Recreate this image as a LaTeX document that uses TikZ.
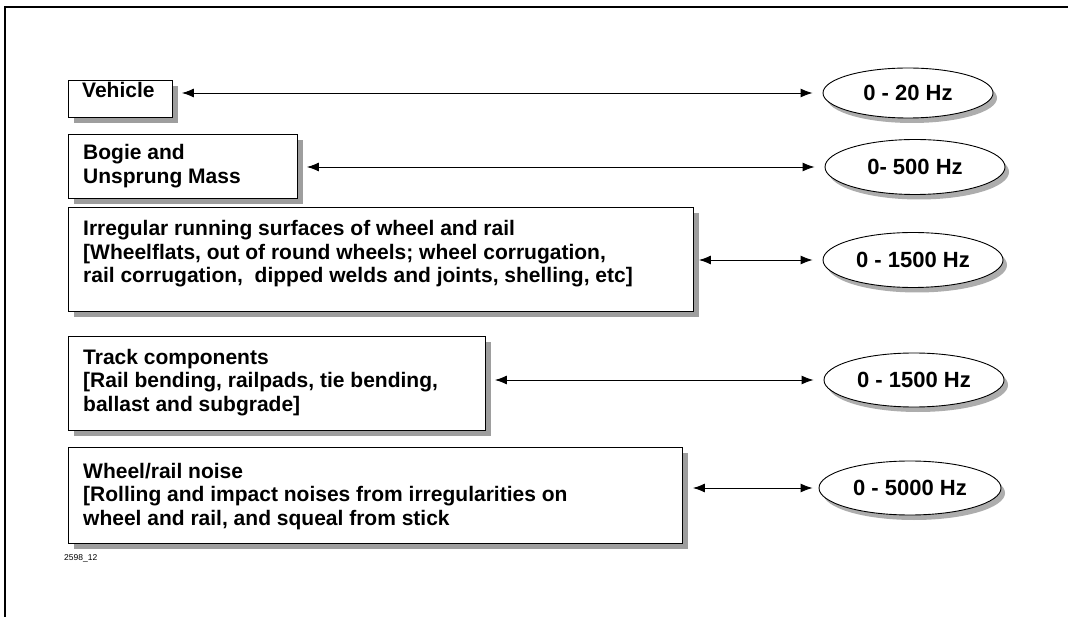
\documentclass[tikz,border=0pt]{standalone}
\usepackage{fontspec}
\setmainfont{Liberation Sans}
\usetikzlibrary{arrows.meta,shapes.geometric,shadows}
\begin{document}
\begin{tikzpicture}[x=1pt,y=-1pt,
  box/.style={draw=black, line width=0.9pt, fill=white, rectangle, inner sep=0pt, anchor=north west,
    drop shadow={shadow xshift=6pt, shadow yshift=-6pt, fill=black!38, opacity=1}},
  freq/.style={draw=black, ellipse, line width=0.9pt, fill=white, inner sep=0pt,
    font=\fontsize{22}{24}\selectfont\bfseries,
    drop shadow={shadow xshift=4pt, shadow yshift=-5pt, fill=black!32, opacity=1}},
  txt/.style={anchor=base west, align=left, inner sep=0pt, font=\fontsize{21}{23.5}\selectfont\bfseries},
  arr/.style={{Latex[length=12pt,width=9pt]}-{Latex[length=12pt,width=9pt]}, line width=0.9pt},
]
\useasboundingbox (0,0) rectangle (1068,617);
\fill[white] (0,0) rectangle (1068,617);
\draw[line width=1.5pt] (5,617) -- (5,7) -- (1068,7);

% boxes
\node[box, minimum width=104pt, minimum height=37pt] (b1) at (68,80) {};
\node[box, minimum width=229pt, minimum height=64pt] (b2) at (68,134) {};
\node[box, minimum width=625pt, minimum height=104pt] (b3) at (68,207) {};
\node[box, minimum width=417pt, minimum height=94pt] (b4) at (68,336) {};
\node[box, minimum width=614pt, minimum height=96pt] (b5) at (68,447) {};

% texts (anchored at the baseline of the last line)
\node[txt] (t1) at (82,98) {Vehicle};
\node[txt] (t2) at (83,183.5) {Bogie and\\Unsprung Mass};
\node[txt] (t3) at (83,283) {Irregular running surfaces of wheel and rail\\{[}Wheelflats, out of round wheels; wheel corrugation,\\rail corrugation,\ \ dipped welds and joints, shelling, etc]};
\node[txt] (t4) at (83,411) {Track components\\{[}Rail bending, railpads, tie bending,\\ballast and subgrade]};
\node[txt] (t5) at (83,525) {Wheel/rail noise\\{[}Rolling and impact noises from irregularities on\\wheel and rail, and squeal from stick};

% frequency ellipses
\node[freq, minimum width=170pt, minimum height=50pt] (e1) at (908,93) {0 - 20 Hz};
\node[freq, minimum width=180pt, minimum height=55pt] (e2) at (915,167) {0- 500 Hz};
\node[freq, minimum width=180pt, minimum height=55pt] (e3) at (913,260) {0 - 1500 Hz};
\node[freq, minimum width=180pt, minimum height=54pt] (e4) at (914,380) {0 - 1500 Hz};
\node[freq, minimum width=182pt, minimum height=54pt] (e5) at (910,488) {0 - 5000 Hz};

% connectors
\draw[arr] ([xshift=9pt]e1.west -| b1.east) -- ([xshift=-10pt]e1.west);
\draw[arr] ([xshift=9pt]e2.west -| b2.east) -- ([xshift=-10pt]e2.west);
\draw[arr] ([xshift=5pt]e3.west -| b3.east) -- ([xshift=-10pt]e3.west);
\draw[arr] ([xshift=9pt]e4.west -| b4.east) -- ([xshift=-10pt]e4.west);
\draw[arr] ([xshift=10pt]e5.west -| b5.east) -- ([xshift=-6pt]e5.west);

\node[anchor=base west, inner sep=0pt, font=\fontsize{8.5}{9}\selectfont] (code) at (64,560) {2598\_12};
\end{tikzpicture}
\end{document}
